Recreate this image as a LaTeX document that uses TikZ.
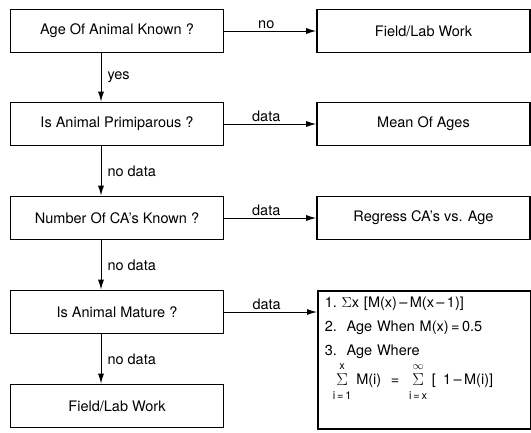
\documentclass[tikz,border=0pt]{standalone}
\usepackage{fontspec}
\setmainfont{TeX Gyre Heros}
\usetikzlibrary{arrows.meta}
% sum sign with limits above and below
\newcommand{\sumst}[2]{\begin{tabular}[c]{@{}c@{}}\fontsize{11}{15}\selectfont #2\\[-1pt]\fontsize{17}{17}\selectfont$\Sigma$\\[-3pt]\fontsize{11}{15}\selectfont #1\end{tabular}}
\begin{document}
\begin{tikzpicture}[x=1pt,y=1pt]
\tikzstyle{bx} = [draw=black,line width=1.6pt,minimum width=213pt,minimum height=43pt,font=\fontsize{14.5}{17}\selectfont] %box
\tikzstyle{ar} = [-{Latex[length=10pt,width=6pt]},line width=1pt] %arrow
\tikzstyle{tg} = [font=\fontsize{14.5}{17}\selectfont,inner sep=2pt] %arrow label
\useasboundingbox (0,0) rectangle (531,-432);
\node[bx](la)at(117,-31){Age Of Animal Known ?};
\node[bx](lb)at(117,-124){Is Animal Primiparous ?};
\node[bx](lc)at(117,-218){Number Of CA’s Known ?};
\node[bx](ld)at(117,-312){Is Animal Mature ?};
\node[bx](le)at(117,-406){Field/Lab Work};
\node[bx](ra)at(423.5,-31){Field/Lab Work};
\node[bx](rb)at(423.5,-124){Mean Of Ages};
\node[bx](rc)at(423.5,-218){Regress CA’s vs. Age};
\node[bx,anchor=north west,minimum height=138pt,text width=199pt,inner xsep=7pt,align=left](rd)at(317,-290){%
1.\ $\Sigma$x [M(x)\,–\,M(x\,–\,1)]\\[7pt]
2.\ \ Age When M(x)\,=\,0.5\\[7pt]
3.\ \ Age Where\\[-2pt]
\hspace{8pt}\sumst{i\,=\,1}{x}\ M(i)\ \ =\ \ \sumst{i\,=\,x}{$\infty$}\ [\ \,1\,–\,M(i)]\rule[-38pt]{0pt}{0pt}};
\draw[ar](la)--(ra)node[tg,midway,above,xshift=-4pt]{no};
\draw[ar](lb)--(rb)node[tg,midway,above,xshift=-4pt]{data};
\draw[ar](lc)--(rc)node[tg,midway,above,xshift=-4pt]{data};
\draw[ar](ld.east)--(ld.east-|rd.west)node[tg,midway,above,xshift=-4pt]{data};
\draw[ar]([xshift=-16pt]la.south)--([xshift=-16pt]lb.north)node[tg,midway,right,xshift=4pt]{yes};
\draw[ar]([xshift=-16pt]lb.south)--([xshift=-16pt]lc.north)node[tg,midway,right,xshift=4pt]{no data};
\draw[ar]([xshift=-16pt]lc.south)--([xshift=-16pt]ld.north)node[tg,midway,right,xshift=4pt]{no data};
\draw[ar]([xshift=-16pt]ld.south)--([xshift=-16pt]le.north)node[tg,midway,right,xshift=4pt]{no data};
\end{tikzpicture}
\end{document}
